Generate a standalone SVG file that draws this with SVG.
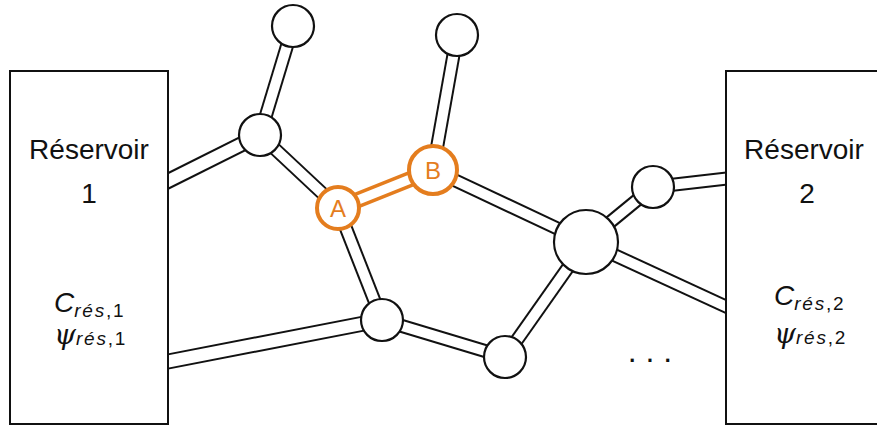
<svg xmlns="http://www.w3.org/2000/svg" width="877" height="427" viewBox="0 0 877 427">
<style>
.po{stroke:#111;stroke-width:14;fill:none}
.pi{stroke:#fff;stroke-width:10;fill:none}
.pow{stroke:#111;stroke-width:16;fill:none}
.piw{stroke:#fff;stroke-width:12;fill:none}
.opo{stroke:#E47D1E;stroke-width:16;fill:none}
.opi{stroke:#fff;stroke-width:9;fill:none}
.node{fill:#fff;stroke:#111;stroke-width:2.2}
.onode{fill:#fff;stroke:#E47D1E;stroke-width:4}
.box{fill:#fff;stroke:#111;stroke-width:2}
.t{font-family:"Liberation Sans",Arial,sans-serif;fill:#111;text-anchor:middle}
.big{font-size:28px}
.it{font-family:"Liberation Sans",Arial,sans-serif;font-style:italic;fill:#111}
.sub{font-size:19px;letter-spacing:1.8px}
.psi{font-family:"DejaVu Serif",serif;font-size:28px}
.ot{font-family:"Liberation Sans",Arial,sans-serif;fill:#E47D1E;font-size:24px;text-anchor:middle}
</style>
<g id="connectors">
<g id="outer">
<line class="pow" x1="150" y1="190" x2="260" y2="135"/>
<line class="po" x1="260" y1="135" x2="293" y2="26"/>
<line class="po" x1="260" y1="135" x2="338" y2="208"/>
<line class="po" x1="338" y1="208" x2="382" y2="320"/>
<line class="pow" x1="150" y1="365" x2="382" y2="320"/>
<line class="po" x1="382" y1="320" x2="505" y2="357"/>
<line class="po" x1="505" y1="357" x2="586" y2="242"/>
<line class="po" x1="433" y1="170" x2="586" y2="242"/>
<line class="po" x1="433" y1="170" x2="457" y2="35"/>
<line class="po" x1="586" y1="242" x2="653" y2="187"/>
<line class="po" x1="653" y1="187" x2="740" y2="177"/>
<line class="po" x1="586" y1="242" x2="740" y2="313"/>
</g>
<g id="inner">
<line class="piw" x1="150" y1="190" x2="260" y2="135"/>
<line class="pi" x1="260" y1="135" x2="293" y2="26"/>
<line class="pi" x1="260" y1="135" x2="338" y2="208"/>
<line class="pi" x1="338" y1="208" x2="382" y2="320"/>
<line class="piw" x1="150" y1="365" x2="382" y2="320"/>
<line class="pi" x1="382" y1="320" x2="505" y2="357"/>
<line class="pi" x1="505" y1="357" x2="586" y2="242"/>
<line class="pi" x1="433" y1="170" x2="586" y2="242"/>
<line class="pi" x1="433" y1="170" x2="457" y2="35"/>
<line class="pi" x1="586" y1="242" x2="653" y2="187"/>
<line class="pi" x1="653" y1="187" x2="740" y2="177"/>
<line class="pi" x1="586" y1="242" x2="740" y2="313"/>
</g>
<g id="pipe-AB">
<line class="opo" x1="338" y1="208" x2="433" y2="170"/>
<line class="opi" x1="338" y1="208" x2="433" y2="170"/>
</g>
</g>
<g id="reservoir1">
<rect class="box" x="10" y="71" width="158" height="353"/>
<text class="t big" x="89" y="159">Réservoir</text>
<text class="t big" x="89" y="203">1</text>
<text class="it" x="54" y="312"><tspan font-size="28">C</tspan><tspan class="sub" dy="5">rés</tspan><tspan class="sub" font-style="normal">,1</tspan></text>
<text class="it" x="54" y="344"><tspan class="psi">ψ</tspan><tspan class="sub" dy="1">rés</tspan><tspan class="sub" font-style="normal">,1</tspan></text>
</g>
<g id="reservoir2">
<rect class="box" x="726" y="71" width="160" height="353"/>
<text class="t big" x="804" y="159">Réservoir</text>
<text class="t big" x="807" y="203">2</text>
<text class="it" x="774" y="305"><tspan font-size="28">C</tspan><tspan class="sub" dy="5">rés</tspan><tspan class="sub" font-style="normal">,2</tspan></text>
<text class="it" x="774" y="343"><tspan class="psi">ψ</tspan><tspan class="sub" dy="1">rés</tspan><tspan class="sub" font-style="normal">,2</tspan></text>
</g>
<g id="n-top1"><circle class="node" cx="293" cy="26" r="21"/></g>
<g id="n-left"><circle class="node" cx="260" cy="135" r="21"/></g>
<g id="n-top2"><circle class="node" cx="457" cy="35" r="21"/></g>
<g id="n-bot1"><circle class="node" cx="382" cy="320" r="21"/></g>
<g id="n-bot2"><circle class="node" cx="505" cy="357" r="21"/></g>
<g id="n-big"><circle class="node" cx="586" cy="242" r="32"/></g>
<g id="n-right"><circle class="node" cx="653" cy="187" r="21"/></g>
<g id="n-A"><circle class="onode" cx="338" cy="208" r="21"/><text class="ot" x="338" y="217">A</text></g>
<g id="n-B"><circle class="onode" cx="433" cy="170" r="24"/><text class="ot" x="433" y="179">B</text></g>
<g id="dots"><text class="t" font-size="32" x="650" y="362">. . .</text></g>
</svg>
